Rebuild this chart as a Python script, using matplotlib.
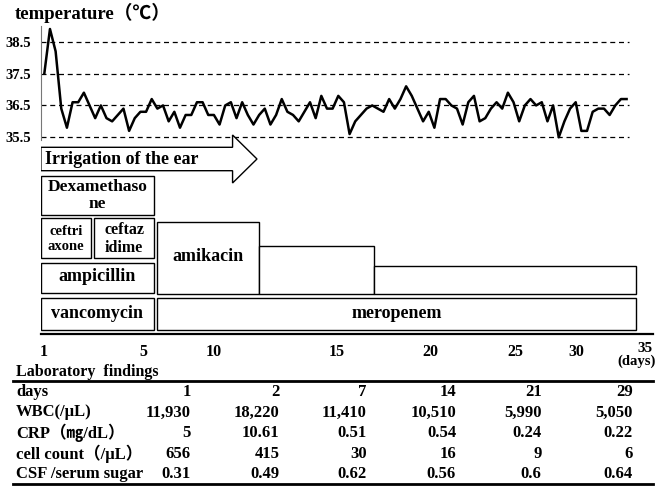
import numpy as np
import matplotlib.pyplot as plt
from matplotlib.patches import Rectangle, Polygon

# body temperature, three readings a day starting on day 1
temp = [37.5, 38.9, 38.2, 36.4, 35.8, 36.6, 36.6, 36.9, 36.5, 36.1,
        36.5, 36.1, 36.0, 36.2, 36.4, 35.7, 36.1, 36.3, 36.3, 36.7,
        36.4, 36.5, 36.0, 36.3, 35.8, 36.2, 36.2, 36.6, 36.6, 36.2,
        36.2, 35.9, 36.5, 36.6, 36.1, 36.6, 36.2, 35.9, 36.2, 36.4,
        35.9, 36.2, 36.7, 36.3, 36.2, 36.0, 36.3, 36.6, 36.1, 36.8,
        36.4, 36.4, 36.8, 36.6, 35.6, 36.0, 36.2, 36.4, 36.5, 36.4,
        36.3, 36.7, 36.4, 36.7, 37.1, 36.8, 36.4, 36.0, 36.3, 35.8,
        36.7, 36.7, 36.5, 36.4, 35.9, 36.6, 36.8, 36.0, 36.1, 36.4,
        36.6, 36.4, 36.9, 36.6, 36.0, 36.5, 36.7, 36.5, 36.6, 36.0,
        36.5, 35.5, 36.0, 36.4, 36.6, 35.7, 35.7, 36.3, 36.4, 36.4,
        36.2, 36.5, 36.7, 36.7]
days = 1 + np.arange(len(temp)) / 3
temp_ticks = [35.5, 36.5, 37.5, 38.5]

# treatments: label, start day, end day (on the temperature time scale)
irrigation = ("Irrigation of the ear", 0.8, 12.1, 13.54)
drugs = [
    ("Dexamethaso\nne", 0.8, 7.47),
    ("ceftri\naxone", 0.8, 3.75),
    ("ceftaz\nidime", 3.95, 7.47),
    ("ampicillin", 0.8, 7.47),
    ("vancomycin", 0.8, 7.47),
    ("amikacin", 7.66, 13.64),
    ("", 13.64, 20.42),
    ("", 20.42, 35.89),
    ("meropenem", 7.66, 35.89),
]
day_labels = ["1", "5", "10", "15", "20", "25", "30"]
day_label_pos = [0.94, 6.84, 11.0, 18.24, 23.74, 28.75, 32.39]

# laboratory findings
lab_days = [1, 2, 7, 14, 21, 29]
wbc = [11930, 18220, 11410, 10510, 5990, 5050]
crp = [5, 10.61, 0.51, 0.54, 0.24, 0.22]
cell_count = [656, 415, 30, 16, 9, 6]
csf_sugar = [0.31, 0.49, 0.62, 0.56, 0.6, 0.64]
row_names = ["days", "WBC(/μL)", "CRP（㎎/dL）", "cell count（/μL）", "CSF /serum sugar"]

plt.rcParams['font.family'] = ['Liberation Serif', 'Noto Sans CJK JP']
plt.rcParams['font.weight'] = 'bold'

W, H = 661, 487
fig = plt.figure(figsize=(W / 100, H / 100), dpi=100)


def rect(l, t, r, b):
    return [l / W, 1 - b / H, (r - l) / W, (b - t) / H]


X0, X1 = 0.805, 36.89

# temperature curve
ax_t = fig.add_axes(rect(41, 25.8, 653, 139.5))
ax_t.patch.set_alpha(0)
for v in temp_ticks:
    ax_t.axhline(v, xmax=0.961, color='black', lw=0.9, ls=(0, (4, 3)))
ax_t.plot(days, temp, color='black', lw=1.8)
ax_t.set_xlim(X0, X1)
ax_t.set_ylim(35.43, 39.0)
for s in ['top', 'right', 'bottom']:
    ax_t.spines[s].set_visible(False)
ax_t.spines['left'].set_color('#777777')
ax_t.spines['left'].set_linewidth(0.8)
ax_t.set_xticks([])
ax_t.set_yticks(temp_ticks, [f"{v:.1f}" for v in temp_ticks])
ax_t.tick_params(axis='y', length=0, pad=7, labelsize=10.5)

# treatment boxes, y in pixel rows
ax_b = fig.add_axes(rect(41, 133, 653, 334))
ax_b.patch.set_alpha(0)
ax_b.set_xlim(X0, X1)
ax_b.set_ylim(334, 133)
for s in ['top', 'right', 'left']:
    ax_b.spines[s].set_visible(False)
ax_b.spines['bottom'].set_linewidth(1.6)
ax_b.set_yticks([])
ax_b.set_xticks(day_label_pos, day_labels)
ax_b.tick_params(axis='x', length=0, pad=7, labelsize=11.5)
ax_b.annotate("35", xy=(36.42, 0), xycoords=('data', 'axes fraction'),
              xytext=(0, -5.5), textcoords='offset points', ha='center', va='top',
              fontsize=11, annotation_clip=False)
ax_b.annotate("(days)", xy=(35.95, 0), xycoords=('data', 'axes fraction'),
              xytext=(0, -15), textcoords='offset points', ha='center', va='top',
              fontsize=10.5, annotation_clip=False)

name, a0, a1, tip = irrigation
arrow = Polygon([(a0, 147.3), (a1, 147.3), (a1, 135), (tip, 159), (a1, 183),
                 (a1, 170.7), (a0, 170.7)], closed=True, fc='white', ec='black', lw=1.0)
ax_b.add_patch(arrow)
ax_b.text(a0 + 0.25, 159, name, ha='left', va='center', fontsize=13)

rows = [(176, 215, 12.5, 1.05), (218.3, 258.3, 10.5, 1.2), (218.3, 258.3, 11.5, 1.1),
        (262.7, 293.3, 13, 1), (297.7, 330, 13, 1), (222.3, 294, 13, 1),
        (246.3, 294, 13, 1), (266, 294, 13, 1), (297.7, 330, 13, 1)]
text_y = [195.5, 239, 239, 277, 313.8, 256.5, 0, 0, 313.8]
for (label, d0, d1), (top, bot, fs, ls), ty in zip(drugs, rows, text_y):
    ax_b.add_patch(Rectangle((d0, top), d1 - d0, bot - top, fc='white', ec='black', lw=1.0))
    if label:
        ax_b.text((d0 + d1) / 2, ty, label, ha='center', va='center',
                  fontsize=fs, linespacing=ls)

# title and laboratory table
ax_o = fig.add_axes([0, 0, 1, 1])
ax_o.set_xlim(0, W)
ax_o.set_ylim(H, 0)
ax_o.axis('off')
ax_o.patch.set_alpha(0)
ax_o.text(15, 13, "temperature（℃）", ha='left', va='center', fontsize=13.5)
ax_o.text(16, 371.5, "Laboratory  findings", ha='left', va='center', fontsize=11.5)
ax_o.plot([13, 653], [380.7, 380.7], color='black', lw=2.0)
ax_o.plot([13, 653], [484, 484], color='black', lw=2.0)

table = [
    [str(v) for v in lab_days],
    [f"{v:,}" for v in wbc],
    [f"{v:g}" for v in crp],
    [str(v) for v in cell_count],
    [f"{v:g}" for v in csf_sugar],
]
row_y = [392.3, 412.5, 433, 453.5, 474]
col_x = [190.7, 279.3, 366.7, 456, 541.7, 632.7]
for name, vals, y in zip(row_names, table, row_y):
    ax_o.text(16, y, name, ha='left', va='center', fontsize=12)
    for x, v in zip(col_x, vals):
        ax_o.text(x, y, v, ha='right', va='center', fontsize=12)

fig.savefig("out.png", dpi=100)
